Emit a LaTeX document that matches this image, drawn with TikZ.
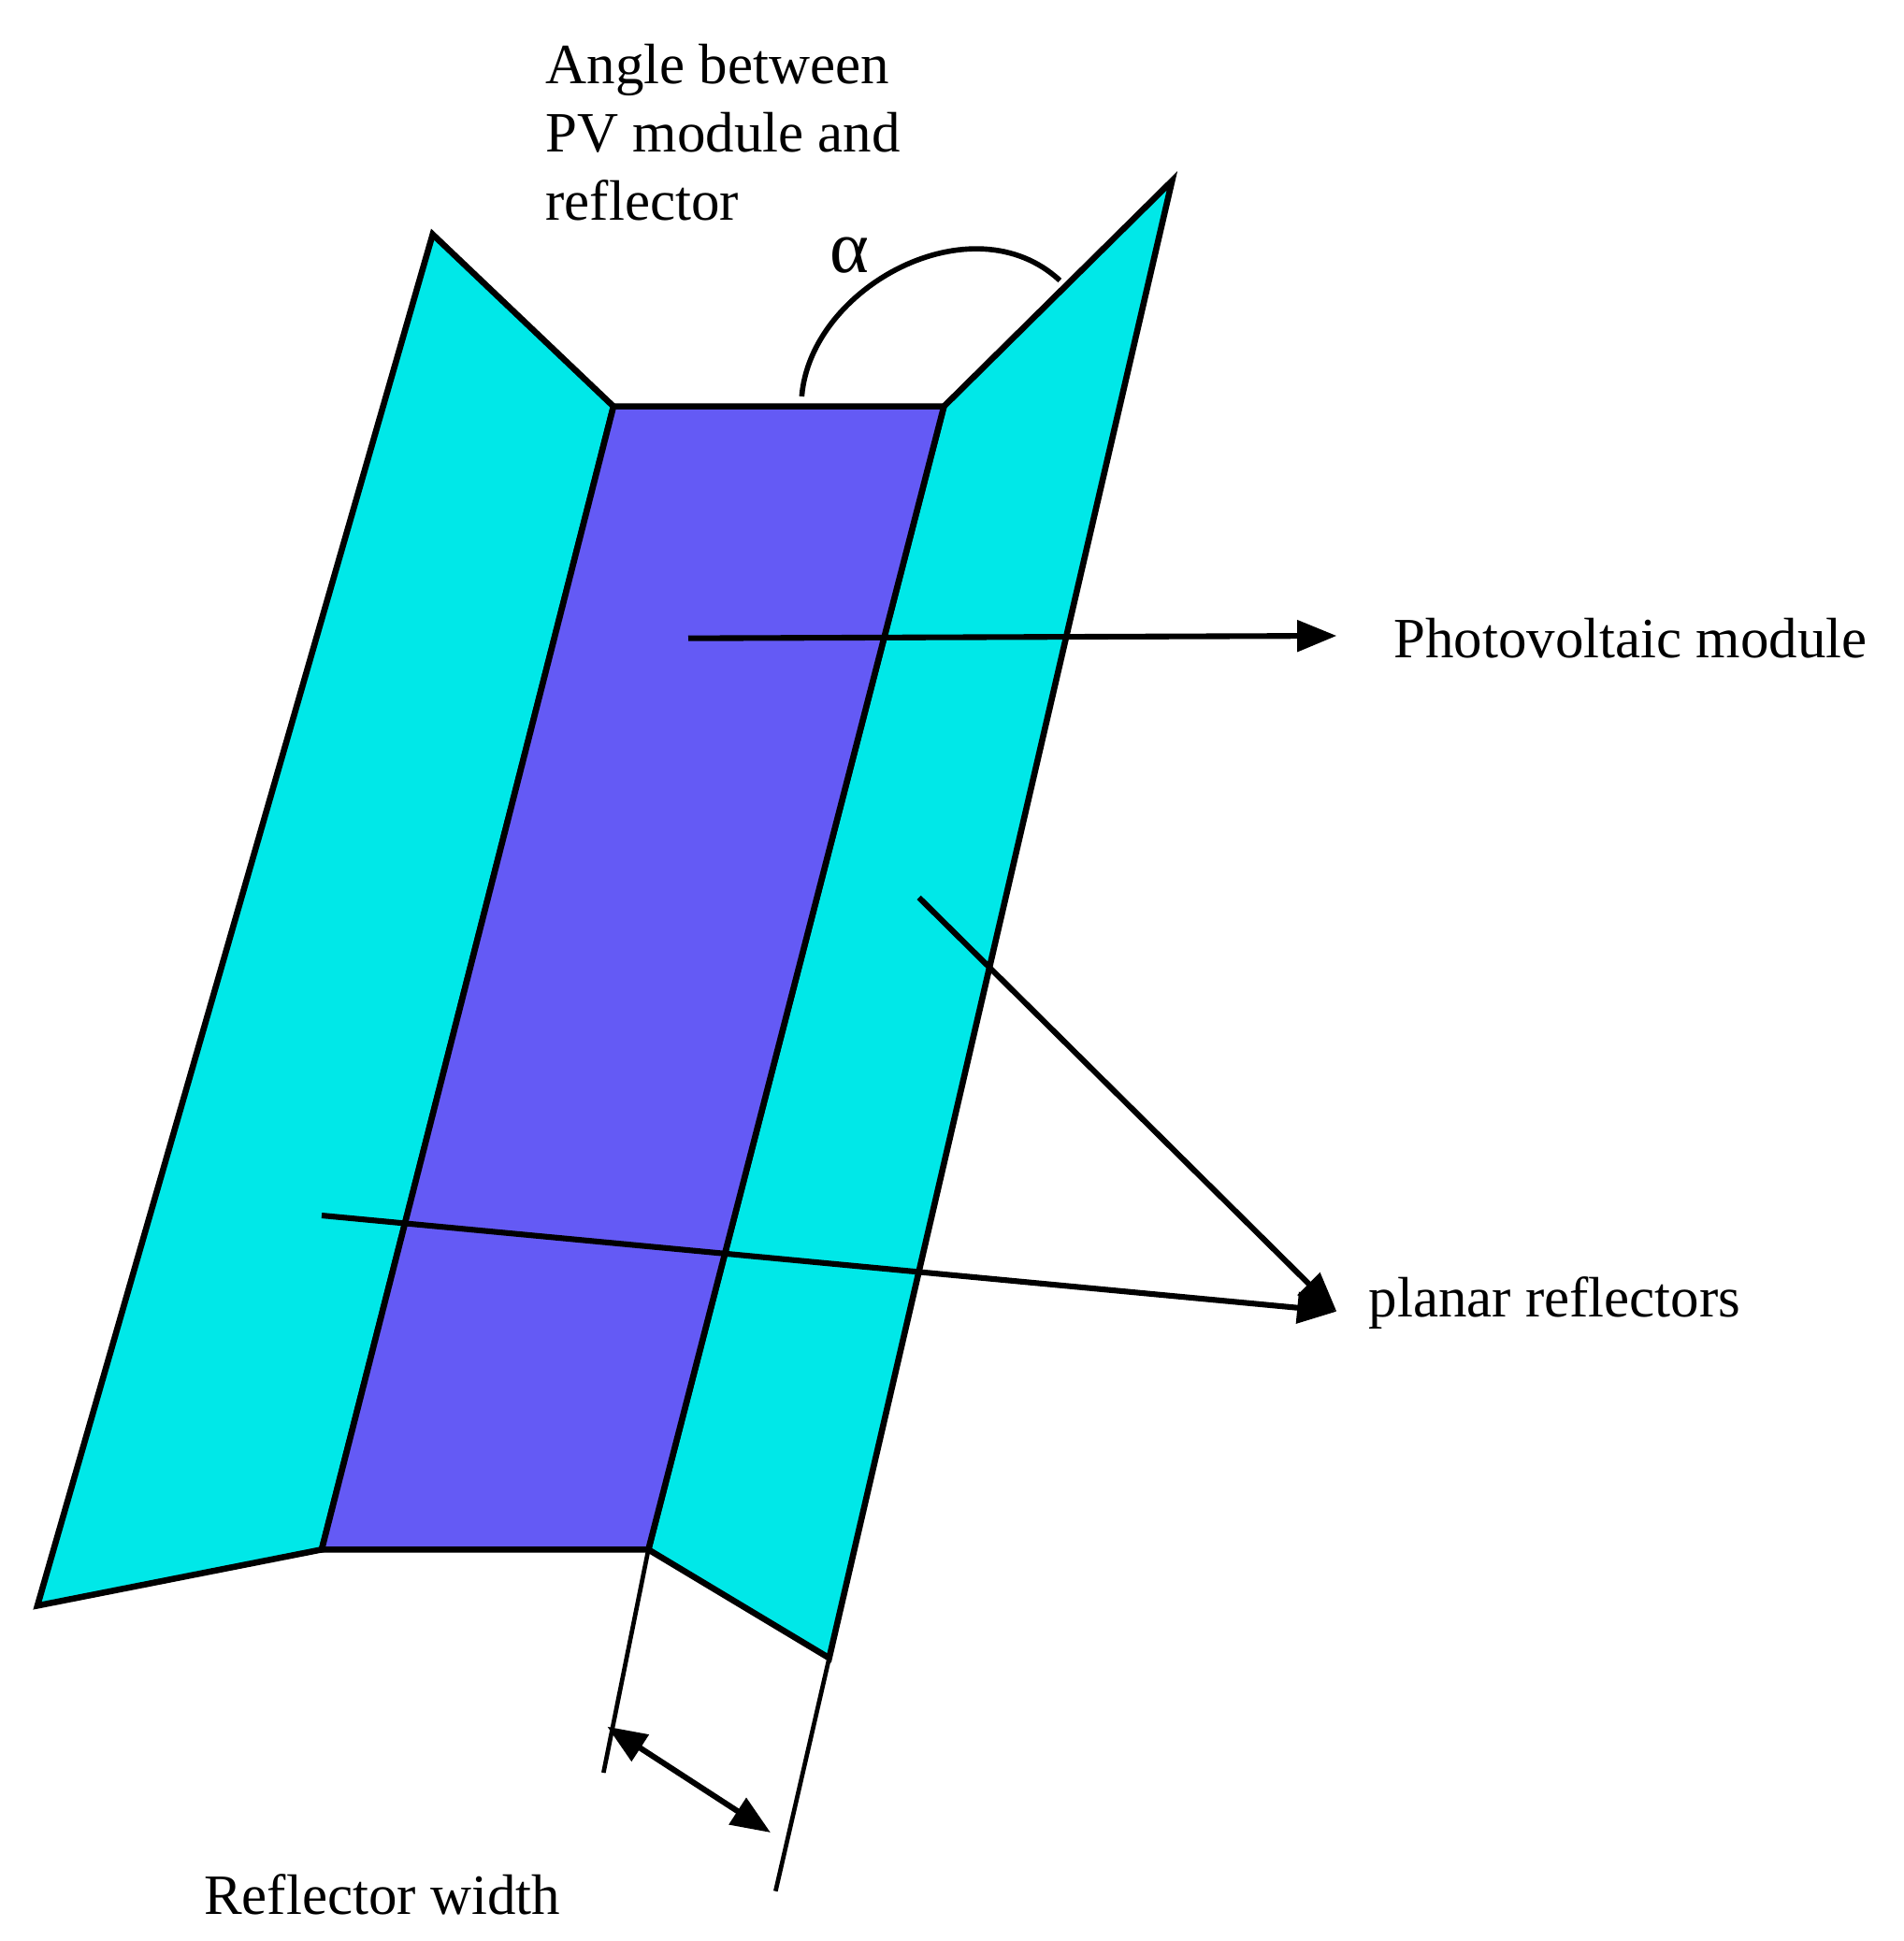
\documentclass[tikz,border=0pt]{standalone}
\usepackage{fontspec}
\setmainfont{Liberation Serif}
\usetikzlibrary{arrows.meta}
\definecolor{refl}{RGB}{0,232,232}
\definecolor{pv}{RGB}{100,90,245}
\begin{document}
\begin{tikzpicture}[x=0.01cm,y=-0.01cm,
  lab/.style={font=\fontsize{13}{15.5}\selectfont,inner sep=0},
  edge/.style={draw=black,line width=1.4pt,line join=miter},
  lead/.style={line width=1.3pt},
  arr/.style={lead,-{Triangle[length=9pt,width=7pt]}}]
\useasboundingbox (0,0) rectangle (1527,1557);
\coordinate (pa) at (492,326); \coordinate (pb) at (757,326);
\coordinate (pc) at (520,1243); \coordinate (pd) at (258,1243);
\coordinate (lt) at (347,188); \coordinate (lb) at (30,1288);
\coordinate (rt) at (940,145); \coordinate (rb) at (665,1330);
\filldraw[edge,fill=refl] (lt)--(pa)--(pd)--(lb)--cycle;
\filldraw[edge,fill=refl] (pb)--(rt)--(rb)--(pc)--cycle;
\filldraw[edge,fill=pv] (pa)--(pb)--(pc)--(pd)--cycle;
\draw[line width=1.2pt] (643,318) .. controls (650,230) and (780,160) .. (850,225);
\node[lab,font=\fontsize{17}{20}\selectfont] (alpha) at (681,205) {α};
\node[lab,align=left,anchor=north west] (angle) at (437,35) {Angle between\\PV module and\\reflector};
\coordinate (pvs) at (552,512);
\node[lab,anchor=west] (pvt) at (1117,512) {Photovoltaic module};
\draw[arr] (pvs) -- (1072,510);
\node[lab,anchor=west] (plt) at (1097,1045) {planar reflectors};
\coordinate (ta) at (1072,1052);
\draw[arr] (737,720) -- (ta);
\draw[arr] (258,975) -- (ta);
\coordinate (e1) at (484,1422); \coordinate (e2) at (622,1517);
\draw[line width=1pt] (pc) -- (e1);
\draw[line width=1pt] (rb) -- (e2);
\draw[lead,{Triangle[length=9pt,width=7pt]}-{Triangle[length=9pt,width=7pt]}] (487,1385) -- (618,1470);
\node[lab,anchor=west] (rw) at (163,1520) {Reflector width};
\end{tikzpicture}
\end{document}
